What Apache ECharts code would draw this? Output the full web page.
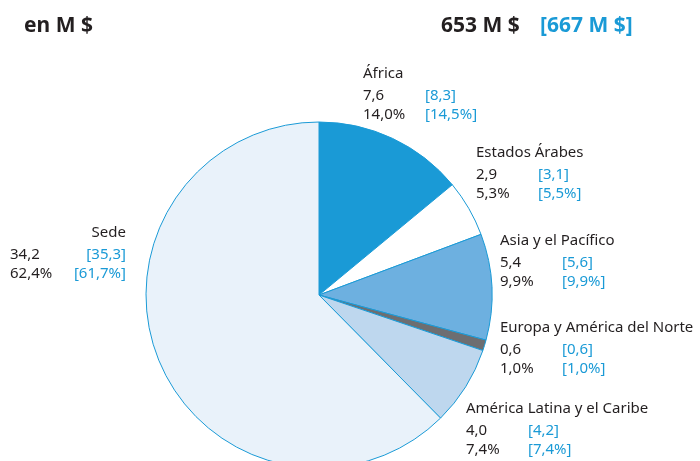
<!DOCTYPE html>
<html>
<head>
<meta charset="utf-8">
<script src="https://cdn.jsdelivr.net/npm/echarts@6/dist/echarts.min.js"></script>
<style>
  html, body { margin: 0; padding: 0; background: #fff; }
  #chart { width: 700px; height: 461px; }
</style>
</head>
<body>
<div id="chart"></div>
<script>
// regions, clockwise from the top
const regions = ['África', 'Estados Árabes', 'Asia y el Pacífico', 'Europa y América del Norte', 'América Latina y el Caribe', 'Sede'];
const amounts = ['7,6', '2,9', '5,4', '0,6', '4,0', '34,2'];
const amountsPrev = ['8,3', '3,1', '5,6', '0,6', '4,2', '35,3'];
const shares = [14.0, 5.3, 9.9, 1.0, 7.4, 62.4];
const sharesPrev = [14.5, 5.5, 9.9, 1.0, 7.4, 61.7];
const total = '653 M $';
const totalPrev = '[667 M $]';

const colors = ['#1a9ad6', '#ffffff', '#6db0e0', '#6d6e71', '#bed7ee', '#e9f2fa'];
const blue = '#1a9ad6';
const dark = '#231f20';

// label anchor (top-left corner of each label block)
const labelPos = [[363, 61], [476, 140], [500, 228], [500, 315], [466, 396], [10, 220]];

function fmt(v) {
    return v.toFixed(1).replace('.', ',') + '%';
}

const data = regions.map((name, i) => ({
    name: name,
    value: shares[i],
    itemStyle: { color: colors[i] },
    label: i === 5 ? {
        width: 116,
        formatter: `{nr|${name}}\n{v|${amounts[i]}}{br|[${amountsPrev[i]}]}\n{v|${fmt(shares[i])}}{br|[${fmt(sharesPrev[i])}]}`
    } : {
        formatter: `{n|${name}}\n{v|${amounts[i]}}{b|[${amountsPrev[i]}]}\n{v|${fmt(shares[i])}}{b|[${fmt(sharesPrev[i])}]}`
    }
}));

const myChart = echarts.init(document.getElementById('chart'));

const titleFont = { fontSize: 21, fontWeight: 'bold', fontFamily: 'Noto Sans' };

const option = {
    animation: false,
    textStyle: { fontFamily: 'Noto Sans' },
    title: [
        { text: 'en M $', left: 19, top: 11, textStyle: Object.assign({ color: dark }, titleFont) },
        { text: total, left: 436, top: 11, textStyle: Object.assign({ color: dark }, titleFont) },
        { text: totalPrev, left: 535, top: 11, textStyle: Object.assign({ color: blue }, titleFont) }
    ],
    series: [
        {
            type: 'pie',
            center: [319, 295],
            radius: 173,
            startAngle: 90,
            clockwise: true,
            silent: true,
            itemStyle: { borderColor: blue, borderWidth: 1 },
            labelLine: { show: false },
            label: {
                show: true,
                position: 'outside',
                align: 'left',
                overflow: 'none',
                width: 240,
                rich: {
                    n: { fontSize: 15, color: dark, lineHeight: 25, fontFamily: 'Noto Sans' },
                    nr: { fontSize: 15, color: dark, lineHeight: 25, width: 116, align: 'right', fontFamily: 'Noto Sans' },
                    v: { fontSize: 15, color: dark, lineHeight: 19, width: 62, fontFamily: 'Noto Sans' },
                    b: { fontSize: 15, color: blue, lineHeight: 19, fontFamily: 'Noto Sans' },
                    br: { fontSize: 15, color: blue, lineHeight: 19, width: 54, align: 'right', fontFamily: 'Noto Sans' }
                }
            },
            labelLayout: function (params) {
                const p = labelPos[params.dataIndex];
                return { x: p[0], y: p[1], align: 'left', verticalAlign: 'top' };
            },
            data: data
        }
    ]
};
myChart.setOption(option);
</script>
</body>
</html>
